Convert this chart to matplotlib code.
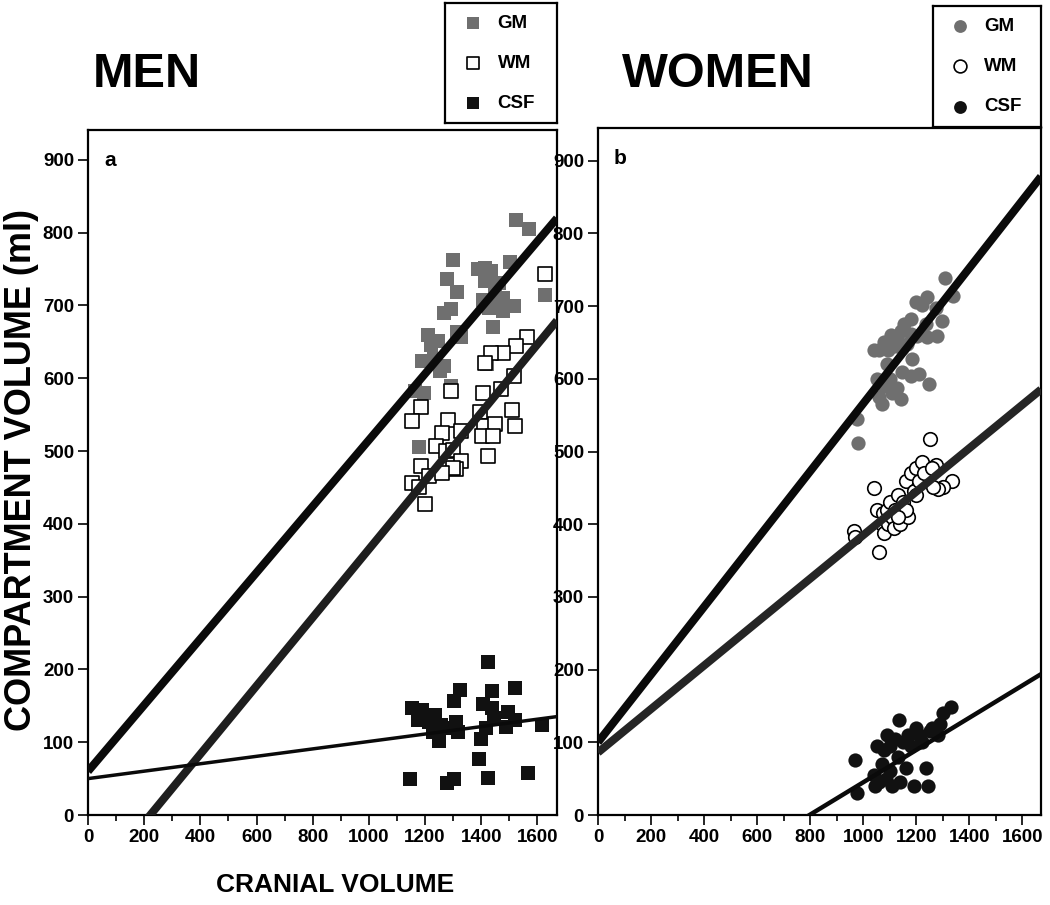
import numpy as np
import matplotlib
matplotlib.use("Agg")
import matplotlib.pyplot as plt

plt.rcParams['font.family'] = ['Liberation Sans', 'DejaVu Sans']
plt.rcParams['font.weight'] = 'bold'

# ---- MEN (panel a) ----
men_gm_x = [1525, 1569, 1299, 1278, 1315, 1389, 1435, 1465, 1412, 1502, 1628, 1405, 1449, 1428,
            1479, 1518, 1442, 1269, 1292, 1209, 1248, 1315, 1329, 1188, 1232, 1269, 1255, 1165,
            1195, 1292, 1419, 1178, 1412, 1448, 1220, 1478]
men_gm_y = [817, 805, 763, 736, 718, 750, 747, 731, 733, 759, 715, 708, 711, 697,
            692, 699, 670, 690, 695, 660, 651, 663, 656, 624, 626, 617, 610, 583,
            580, 589, 619, 505, 752, 722, 645, 710]

men_wm_x = [1185, 1155, 1282, 1395, 1508, 1522, 1411, 1448, 1402, 1441, 1328, 1261, 1238, 1275,
            1298, 1425, 1328, 1312, 1298, 1185, 1215, 1261, 1155, 1178, 1201, 1628, 1562, 1525,
            1479, 1435, 1412, 1518, 1292, 1405, 1472]
men_wm_y = [560, 541, 543, 553, 557, 534, 534, 537, 521, 521, 527, 525, 507, 500,
            502, 493, 486, 475, 477, 479, 466, 470, 456, 450, 427, 743, 656, 644,
            635, 635, 621, 603, 583, 580, 585]

men_csf_x = [1423, 1326, 1303, 1437, 1520, 1407, 1153, 1190, 1176, 1213, 1236, 1257, 1227, 1280,
             1310, 1250, 1317, 1437, 1446, 1416, 1400, 1497, 1520, 1490, 1615, 1393, 1146, 1280,
             1303, 1423, 1566]
men_csf_y = [210, 172, 156, 170, 174, 153, 147, 144, 130, 128, 137, 123, 114, 119,
             128, 102, 114, 147, 133, 119, 105, 142, 130, 121, 123, 77, 49, 44,
             49, 51, 58]

# regression lines: (intercept, slope) for GM, WM, CSF
men_fit_b = [60, -104, 50]
men_fit_m = [0.455, 0.469, 0.051]

# ---- WOMEN (panel b) ----
women_gm_x = [1308, 1339, 1241, 1198, 1223, 1273, 1179, 1154, 1298, 1235, 1279, 1241, 1204, 1179,
              1141, 1129, 1166, 1147, 1185, 1147, 1179, 1210, 1248, 1129, 1141,
              975, 982, 1040, 1050, 1060, 1070, 1080, 1090, 1095, 1100, 1110, 1120, 1105, 1080, 1060]
women_gm_y = [739, 714, 712, 705, 701, 698, 682, 675, 680, 675, 659, 657, 659, 662,
              666, 657, 648, 643, 627, 609, 604, 607, 593, 588, 572,
              545, 512, 640, 600, 575, 565, 590, 620, 640, 600, 580, 645, 660, 650, 640]

women_wm_x = [965, 968, 1040, 1050, 1060, 1070, 1075, 1080, 1090, 1095, 1100, 1110, 1115, 1120,
              1130, 1140, 1150, 1160, 1170, 1180, 1190, 1200, 1210, 1220, 1230, 1200, 1160, 1130,
              1252, 1276, 1258, 1333, 1302, 1283, 1264]
women_wm_y = [390, 382, 450, 420, 362, 400, 415, 388, 420, 400, 430, 410, 395, 420,
              440, 400, 430, 460, 410, 470, 445, 478, 460, 485, 470, 440, 420, 410,
              517, 481, 478, 460, 451, 449, 451]

women_csf_x = [970, 975, 1040, 1045, 1050, 1060, 1070, 1080, 1085, 1090, 1100, 1110, 1120, 1130,
               1135, 1140, 1150, 1160, 1170, 1180, 1190, 1200, 1210, 1220, 1235, 1245, 1250, 1260,
               1280, 1300, 1330, 1290, 1100]
women_csf_y = [75, 30, 55, 40, 95, 45, 70, 90, 50, 110, 60, 40, 105, 80,
               130, 45, 100, 65, 110, 95, 40, 120, 110, 100, 65, 40, 115, 120,
               110, 140, 148, 125, 95]

women_fit_b = [100, 86, -177]
women_fit_m = [0.466, 0.299, 0.222]

labels = ["GM", "WM", "CSF"]
gray = "#6f6f6f"

fig = plt.figure(figsize=(10.5, 9.05), dpi=100)
ax1 = fig.add_axes([88/1050, 90/905, 469/1050, 685/905])
ax2 = fig.add_axes([598/1050, 90/905, 443/1050, 687/905])


def style_axes(ax, xmax, ymax):
    ax.set_xlim(0, xmax)
    ax.set_ylim(0, ymax)
    ax.set_xticks(np.arange(0, 1601, 200))
    ax.set_xticks(np.arange(100, 1601, 200), minor=True)
    ax.set_yticks(np.arange(0, 901, 100))
    ax.tick_params(axis='both', which='major', direction='out', length=7, width=1.2,
                   labelsize=13.5, pad=3)
    ax.tick_params(axis='x', which='minor', direction='out', length=4, width=1.2)
    for lab in ax.get_xticklabels() + ax.get_yticklabels():
        lab.set_fontweight('bold')
    for sp in ax.spines.values():
        sp.set_linewidth(1.6)


def draw_fits(ax, b, m, widths, colors):
    xs = np.array(ax.get_xlim())
    for bi, mi, w, c in zip(b, m, widths, colors):
        ax.plot(xs, bi + mi * xs, color=c, lw=w, solid_capstyle='butt', zorder=4)


# panel a
ax1.scatter(men_gm_x, men_gm_y, marker='s', s=110, color=gray, linewidths=0, zorder=2)
ax1.scatter(men_wm_x, men_wm_y, marker='s', s=95, facecolor='white', edgecolor='black',
            linewidths=1.2, zorder=3)
ax1.scatter(men_csf_x, men_csf_y, marker='s', s=110, color='#111111', linewidths=0, zorder=2)
style_axes(ax1, 1670, 941)
draw_fits(ax1, men_fit_b, men_fit_m, [5.8, 5.8, 2.5], ['#0a0a0a', '#1e1e1e', '#0a0a0a'])
ax1.text(0.035, 0.955, "a", transform=ax1.transAxes, fontsize=15, fontweight='bold',
         va='center', ha='left')

# panel b
ax2.scatter(women_gm_x, women_gm_y, marker='o', s=105, color=gray, linewidths=0, zorder=2)
ax2.scatter(women_wm_x, women_wm_y, marker='o', s=95, facecolor='white', edgecolor='black',
            linewidths=1.2, zorder=3)
ax2.scatter(women_csf_x, women_csf_y, marker='o', s=105, color='#111111', linewidths=0, zorder=2)
style_axes(ax2, 1670, 945)
draw_fits(ax2, women_fit_b, women_fit_m, [5.8, 5.8, 3.2], ['#0a0a0a', '#252525', '#0a0a0a'])
ax2.text(0.035, 0.955, "b", transform=ax2.transAxes, fontsize=15, fontweight='bold',
         va='center', ha='left')

# titles
fig.text(93/1050, 1 - 87/905, "MEN", fontsize=35, fontweight='bold', ha='left', va='baseline')
fig.text(622/1050, 1 - 87/905, "WOMEN", fontsize=35, fontweight='bold', ha='left', va='baseline')

# axis labels
fig.text(22/1050, 1 - 470/905, "COMPARTMENT VOLUME (ml)", rotation=90, fontsize=26,
         fontweight='bold', ha='center', va='center')
fig.text(335/1050, 1 - 885/905, "CRANIAL VOLUME", fontsize=19, fontweight='bold',
         ha='center', va='center')


def legend_box(rect, marker, styles):
    lax = fig.add_axes(rect)
    lax.set_xlim(0, 1)
    lax.set_ylim(0, 3)
    lax.set_xticks([])
    lax.set_yticks([])
    for sp in lax.spines.values():
        sp.set_linewidth(1.6)
    for i, (lab, st) in enumerate(zip(labels, styles)):
        yy = 2.5 - i
        lax.scatter([0.25], [yy], marker=marker, s=85, **st)
        lax.text(0.47, yy, lab, fontsize=13.5, fontweight='bold', va='center', ha='left')


legend_box([445/1050, 1 - 123/905, 112/1050, 120/905], 's',
           [dict(color=gray, linewidths=0),
            dict(facecolor='white', edgecolor='black', linewidths=1.2),
            dict(color='#111111', linewidths=0)])
legend_box([933/1050, 1 - 127/905, 108/1050, 121/905], 'o',
           [dict(color=gray, linewidths=0),
            dict(facecolor='white', edgecolor='black', linewidths=1.2),
            dict(color='#111111', linewidths=0)])

fig.savefig("out.png", dpi=100)
